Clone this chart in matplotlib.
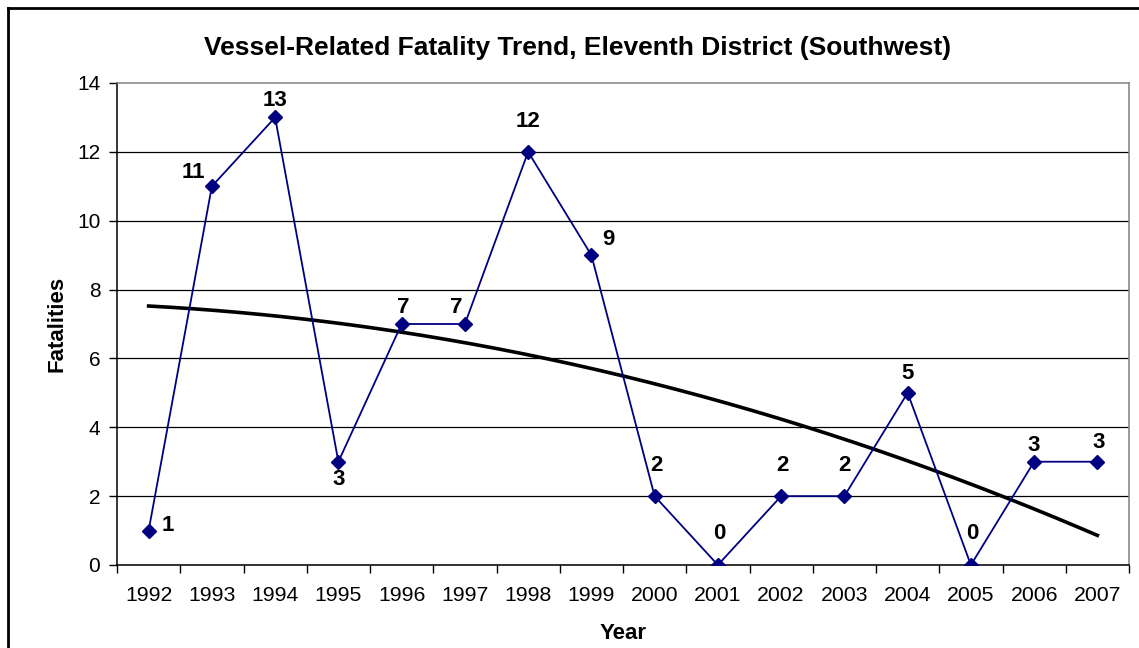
import numpy as np
import matplotlib
matplotlib.use("Agg")
import matplotlib.pyplot as plt
from matplotlib.lines import Line2D

years = ["1992", "1993", "1994", "1995", "1996", "1997", "1998", "1999",
         "2000", "2001", "2002", "2003", "2004", "2005", "2006", "2007"]
fatalities = [1, 11, 13, 3, 7, 7, 12, 9, 2, 0, 2, 2, 5, 0, 3, 3]
y_ticks = [0, 2, 4, 6, 8, 10, 12, 14]

# data label offsets in points (style only)
label_offsets = [(14, 4), (-13, 10), (0, 12), (0, -13), (1, 12), (-6, 12),
                 (0, 22), (12, 11), (1, 22), (1, 23), (1, 22), (0, 22),
                 (0, 14), (1, 23), (0, 12), (1, 14)]

plt.rcParams['font.family'] = ['Liberation Sans', 'DejaVu Sans']

fig = plt.figure(figsize=(11.39, 6.48), dpi=100)
ax = fig.add_axes([117/1139, 1 - 565/648, (1129-117)/1139, (565-83)/648])

x = np.arange(len(years))

# grid
for v in y_ticks[:-1]:
    ax.axhline(v, color='black', lw=0.9, zorder=1)

# polynomial (order 2) trend line
coef = np.polyfit(x, fatalities, 2)
xs = np.linspace(0, len(years) - 1, 300)
ax.plot(xs, np.polyval(coef, xs), color='black', lw=2.6, zorder=2)

ax.plot(x, fatalities, color='#000080', lw=1.3, marker='D', markersize=7.5,
        markerfacecolor='#000080', markeredgecolor='#000080', zorder=3)

for xi, v, (dx, dy) in zip(x, fatalities, label_offsets):
    ax.annotate(str(v), (xi, v), xytext=(dx, dy), textcoords='offset points',
                ha='center', va='center', fontsize=16, fontweight='bold', zorder=4)

ax.set_xlim(-0.5, len(years) - 0.5)
ax.set_ylim(0, 14)
ax.set_yticks(y_ticks)
ax.set_yticklabels([str(v) for v in y_ticks], fontsize=15)
ax.set_xticks(np.arange(len(years) + 1) - 0.5)
ax.set_xticklabels([])
ax.set_xticks(x, minor=True)
ax.set_xticklabels(years, minor=True, fontsize=15.3)
ax.tick_params(axis='x', which='major', direction='out', length=6, width=1, color='black')
ax.tick_params(axis='x', which='minor', length=0, pad=15)
ax.tick_params(axis='y', direction='out', length=6, width=1, pad=6)

for s in ['left', 'bottom']:
    ax.spines[s].set_color('black')
    ax.spines[s].set_linewidth(1.1)
for s in ['top', 'right']:
    ax.spines[s].set_color('#808080')
    ax.spines[s].set_linewidth(1.1)

ax.set_xlabel("Year", fontsize=16, fontweight='bold', labelpad=13)
ax.set_ylabel("Fatalities", fontsize=16, fontweight='bold', labelpad=7)

fig.text(578/1139, 1 - 48/648, "Vessel-Related Fatality Trend, Eleventh District (Southwest)",
         ha='center', va='center', fontsize=19, fontweight='bold')

# outer chart frame (left and top visible)
fig.add_artist(Line2D([8/1139, 8/1139], [0, 1 - 8/648], transform=fig.transFigure,
                      color='black', lw=2))
fig.add_artist(Line2D([8/1139, 1], [1 - 8/648, 1 - 8/648], transform=fig.transFigure,
                      color='black', lw=2))

fig.savefig("out.png", dpi=100)
